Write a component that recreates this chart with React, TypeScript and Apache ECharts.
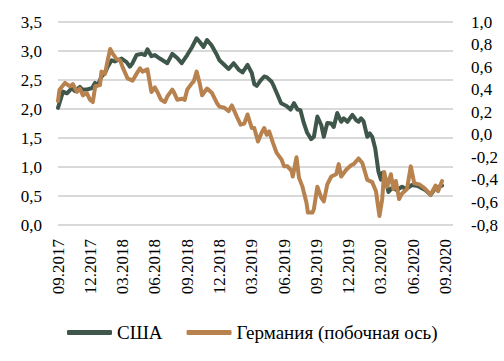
import React, { useEffect, useRef } from "react";
import * as echarts from "echarts";

// x = weeks since the start of 09.2017
const tickLabels = ["09.2017", "12.2017", "03.2018", "06.2018", "09.2018", "12.2018", "03.2019", "06.2019", "09.2019", "12.2019", "03.2020", "06.2020", "09.2020"];
const weeksPerTick = 13;

const usaSeries: [number, number][] = [
  [0, 2.02], [2, 2.3], [3.6, 2.27], [5.6, 2.36], [6.8, 2.31], [8.8, 2.38], [10, 2.33], [12, 2.34], [13.7, 2.36], [14.9, 2.45],
  [16, 2.41], [17.5, 2.56], [18.9, 2.62], [20, 2.73], [21.6, 2.84], [22.9, 2.82], [24, 2.84], [25.6, 2.87], [27.6, 2.81], [28.9, 2.73],
  [30, 2.79], [31.6, 2.93], [33.6, 2.95], [35, 2.93], [36, 3.03], [37.6, 2.91], [39, 2.93], [41, 2.87], [44, 2.79], [46, 2.95],
  [48, 2.88], [49.8, 2.79], [52, 2.93], [54, 3.07], [55.8, 3.22], [57, 3.16], [58.6, 3.07], [60, 3.19], [61.8, 3.1], [64, 2.93],
  [65, 2.84], [67, 2.76], [68.7, 2.69], [70.7, 2.79], [72.7, 2.68], [74.3, 2.63], [76.3, 2.76], [78, 2.62], [79, 2.43], [80, 2.4],
  [81.5, 2.49], [83, 2.56], [84, 2.55], [86, 2.47], [87, 2.38], [88.4, 2.24], [89.8, 2.1], [92, 2.05], [93.6, 1.99], [95, 2.1],
  [96.4, 1.99], [97.6, 1.98], [98.8, 1.78], [100.3, 1.59], [101.9, 1.48], [103, 1.52], [104.4, 1.87], [106, 1.72], [107, 1.52], [108.4, 1.76],
  [110, 1.75], [111, 1.69], [112.4, 1.93], [114, 1.78], [115, 1.84], [116.5, 1.78], [118.5, 1.9], [120, 1.81], [121, 1.78], [122, 1.84],
  [123, 1.79], [124.5, 1.52], [125.5, 1.58], [126.5, 1.52], [127.7, 1.32], [129, 0.92], [130, 0.78], [130.6, 0.9], [132, 0.78], [133, 0.57],
  [134.5, 0.64], [136.5, 0.6], [138.5, 0.66], [140, 0.62], [142.5, 0.69], [145, 0.67], [148, 0.6], [150, 0.52], [152, 0.64], [154.6, 0.68],
];

const germanySeries: [number, number][] = [
  [0, 0.3], [0.6, 0.4], [2.8, 0.46], [4.8, 0.43], [6, 0.45], [7.6, 0.38], [8.8, 0.41], [10, 0.35], [11.6, 0.37], [12.9, 0.31],
  [14, 0.29], [15, 0.43], [16.9, 0.44], [17.5, 0.56], [18.9, 0.54], [20, 0.66], [21, 0.76], [22, 0.72], [23.6, 0.67], [25, 0.66],
  [26, 0.6], [28, 0.5], [30, 0.48], [31.6, 0.54], [33, 0.59], [34, 0.56], [36, 0.58], [37.6, 0.38], [39, 0.42], [40, 0.38],
  [41.5, 0.31], [43, 0.29], [44, 0.34], [46, 0.4], [46.6, 0.38], [48, 0.31], [50, 0.32], [51, 0.31], [52, 0.4], [54, 0.46],
  [54.6, 0.47], [55.8, 0.56], [57, 0.46], [58, 0.35], [60, 0.41], [62, 0.37], [64, 0.28], [65, 0.25], [67, 0.24], [68.7, 0.21],
  [70, 0.26], [72, 0.16], [73.5, 0.09], [75, 0.1], [76.3, 0.18], [78, 0.06], [79, 0.06], [80.5, -0.06], [82, 0.02], [83, 0.06],
  [84, 0.0], [85, 0.03], [86.5, -0.07], [88, -0.16], [90, -0.22], [91, -0.28], [92.4, -0.28], [94, -0.32], [94.5, -0.37], [96, -0.2],
  [97, -0.38], [98.4, -0.46], [100, -0.6], [100.6, -0.69], [102.4, -0.69], [103, -0.66], [104.4, -0.46], [106, -0.56], [107, -0.59], [108.4, -0.44],
  [110, -0.37], [112, -0.35], [113, -0.26], [114, -0.37], [116, -0.31], [118, -0.27], [119, -0.26], [121, -0.21], [122.5, -0.25], [124.5, -0.4],
  [126.5, -0.42], [128, -0.5], [128.8, -0.63], [129.4, -0.72], [130.5, -0.57], [131.3, -0.33], [132.5, -0.46], [134, -0.35], [135, -0.48], [136, -0.41],
  [137.3, -0.57], [138.5, -0.52], [140.5, -0.48], [142, -0.28], [143.4, -0.43], [145.4, -0.44], [147.4, -0.47], [150, -0.53], [152, -0.45], [153, -0.5],
  [154.6, -0.41],
];

const seriesNames = ["США", "Германия (побочная ось)"];
const colors = ["#3f574b", "#b8824f"];
const FONT = "'Liberation Serif', 'DejaVu Serif', serif";

const fmt = (v: number) => {
  const r = Math.abs(v) < 1e-9 ? 0 : v;
  return r.toFixed(1).replace(".", ",");
};

export default function App() {
  const ref = useRef<HTMLDivElement>(null);
  useEffect(() => {
    if (!ref.current) return;
    const chart = echarts.init(ref.current, null, { renderer: "svg" });
    chart.setOption({
      animation: false,
      backgroundColor: "#ffffff",
      grid: { left: 58, right: 51, top: 22, bottom: 136, containLabel: false },
      legend: {
        left: 62,
        top: 318,
        itemWidth: 45,
        itemHeight: 5,
        itemGap: 24,
        icon: "roundRect",
        textStyle: { fontFamily: FONT, fontSize: 19, color: "#000" },
        data: seriesNames,
      },
      xAxis: {
        type: "value",
        min: 0,
        max: 159,
        interval: weeksPerTick,
        axisLine: { show: false },
        axisTick: { show: false },
        splitLine: { show: false },
        axisLabel: {
          rotate: 90,
          margin: 14,
          fontFamily: FONT,
          fontSize: 17,
          color: "#000",
          showMaxLabel: true,
          formatter: (v: number) => {
            const i = Math.round(v / weeksPerTick);
            return Math.abs(v - i * weeksPerTick) < 1e-6 ? tickLabels[i] ?? "" : "";
          },
        },
      },
      yAxis: [
        {
          type: "value",
          min: 0,
          max: 3.5,
          interval: 0.5,
          axisLine: { show: false },
          axisTick: { show: false },
          splitLine: { lineStyle: { color: "#d9d9d9", width: 2 } },
          axisLabel: { margin: 16, fontFamily: FONT, fontSize: 17, color: "#000", formatter: fmt },
        },
        {
          type: "value",
          min: -0.8,
          max: 1.0000001,
          interval: 0.2,
          position: "right",
          axisLine: { show: false },
          axisTick: { show: false },
          splitLine: { show: false },
          axisLabel: {
            margin: 18,
            fontFamily: FONT,
            fontSize: 17,
            color: "#000",
            showMaxLabel: true,
            showMinLabel: true,
            formatter: (v: number) => (v > 1.00001 ? "" : fmt(v)),
          },
        },
      ],
      series: [
        {
          name: seriesNames[0],
          type: "line",
          yAxisIndex: 0,
          data: usaSeries,
          showSymbol: false,
          symbol: "none",
          color: colors[0],
          lineStyle: { width: 4, color: colors[0], cap: "round", join: "round" },
          z: 2,
        },
        {
          name: seriesNames[1],
          type: "line",
          yAxisIndex: 1,
          data: germanySeries,
          showSymbol: false,
          symbol: "none",
          color: colors[1],
          lineStyle: { width: 4, color: colors[1], cap: "round", join: "round" },
          z: 3,
        },
      ],
    });
    return () => chart.dispose();
  }, []);
  return <div ref={ref} style={{ width: 504, height: 361, position: "absolute", left: 0, top: 0 }} />;
}
